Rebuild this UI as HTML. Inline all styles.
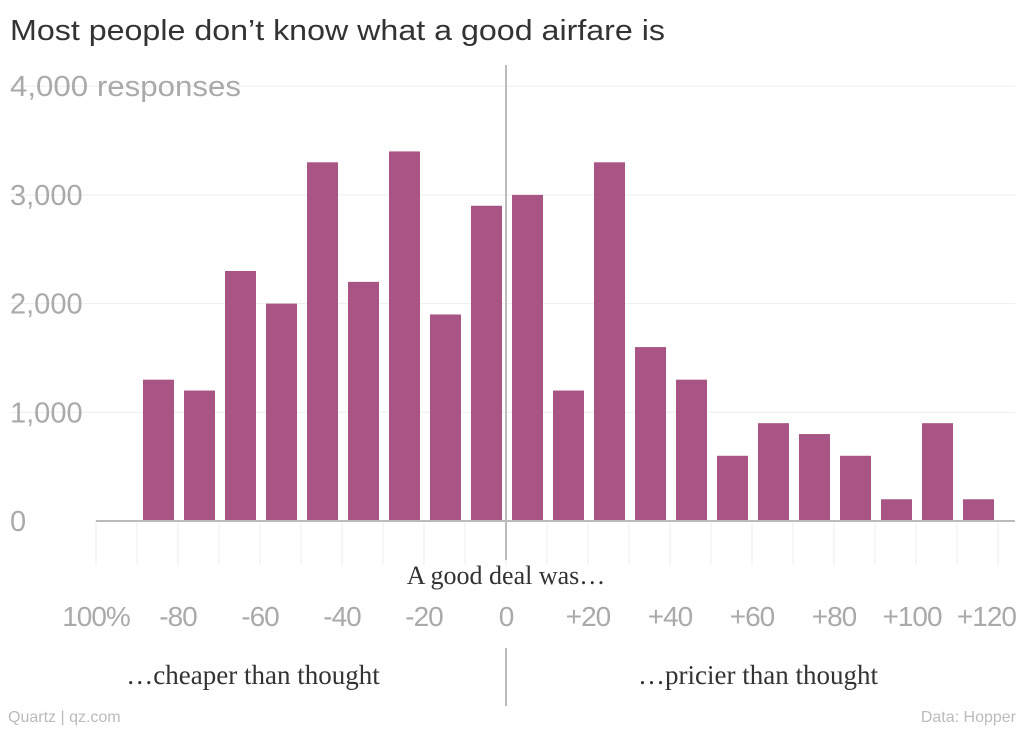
<!DOCTYPE html>
<html><head><meta charset="utf-8"><style>
body{margin:0;background:#fff;width:1024px;height:728px;overflow:hidden;font-family:"Liberation Sans",sans-serif}
</style></head><body>
<svg id="c" width="1024" height="728" xmlns="http://www.w3.org/2000/svg">
<text x="10" y="40" font-size="29" fill="#333" textLength="655" lengthAdjust="spacingAndGlyphs" font-family="Liberation Sans, sans-serif">Most people don’t know what a good airfare is</text>
<g id="grid"></g><g id="bars"></g><g id="axes"></g>
<text x="506" y="584" font-size="26" fill="#333" text-anchor="middle" font-family="Liberation Serif, serif">A good deal was…</text>
<text x="253" y="684" font-size="27" fill="#333" text-anchor="middle" font-family="Liberation Serif, serif">…cheaper than thought</text>
<text x="758" y="684" font-size="27" fill="#333" text-anchor="middle" font-family="Liberation Serif, serif">…pricier than thought</text>
<text x="8" y="722" font-size="16" fill="#bbb">Quartz | qz.com</text>
<text x="1016" y="722" font-size="16" fill="#bbb" text-anchor="end">Data: Hopper</text>
</svg>
<script>
const binStarts=[-90,-80,-70,-60,-50,-40,-30,-20,-10,0,10,20,30,40,50,60,70,80,90,100,110];
const values=[1300,1200,2300,2000,3300,2200,3400,1900,2900,3000,1200,3300,1600,1300,600,900,800,600,200,900,200];
const yTicks=[0,1000,2000,3000,4000];
const yTickLabels=["0","1,000","2,000","3,000","4,000 responses"];
const xTicks=[-100,-80,-60,-40,-20,0,20,40,60,80,100,120];
const xTickLabels=["100%","-80","-60","-40","-20","0","+20","+40","+60","+80","+100","+120"];
const binWidth=10;
const NS="http://www.w3.org/2000/svg";
const xs=v=>506+v*4.1;
const ys=v=>521-v*0.1087;
function mk(t,a,p){const e=document.createElementNS(NS,t);for(const k in a)e.setAttribute(k,a[k]);p.appendChild(e);return e;}
const grid=document.getElementById('grid'),bars=document.getElementById('bars'),axes=document.getElementById('axes');
yTicks.forEach((v,i)=>{
 if(v>0){const l=mk('line',{x1:10,x2:1015,y1:ys(v),y2:ys(v),stroke:'#eee','stroke-width':1},grid);
 
 }
 const a={x:10,y:ys(v)+10,'font-size':29,fill:'#aaa'};
 if(v===4000){a.textLength=231;a.lengthAdjust='spacingAndGlyphs';}
 const t=mk('text',a,axes);
 
 
 t.textContent=yTickLabels[i];
});
for(let v=-100;v<=120;v+=10){
 const l=mk('line',{x1:xs(v),x2:xs(v),y1:521,y2:565,stroke:'#eee','stroke-width':1},grid);
 
 
}
binStarts.forEach((b,i)=>{
 const x0=xs(b)+6,x1=xs(b+binWidth)-4;
 const r=mk('rect',{x:x0,y:ys(values[i]),width:x1-x0,height:ys(0)-ys(values[i]),fill:'#a85586'},bars);
 
 
});
const za=mk('line',{x1:xs(-100),x2:1015,y1:521,y2:521,stroke:'#bbb','stroke-width':2},axes);


const v1=mk('line',{x1:506,x2:506,y1:65,y2:560,stroke:'#bbb','stroke-width':2},axes);


const v2=mk('line',{x1:506,x2:506,y1:648,y2:706,stroke:'#bbb','stroke-width':2},axes);


xTicks.forEach((v,i)=>{
 let x=xs(v), anchor='middle';
 if(v===100)x=912;
 if(v===120){x=1016;anchor='end';}
 const t=mk('text',{x:x,y:626,'font-size':28,fill:'#aaa','text-anchor':anchor,'letter-spacing':'-1'},axes);
 
 
 t.textContent=xTickLabels[i];
});
</script>
</body></html>
